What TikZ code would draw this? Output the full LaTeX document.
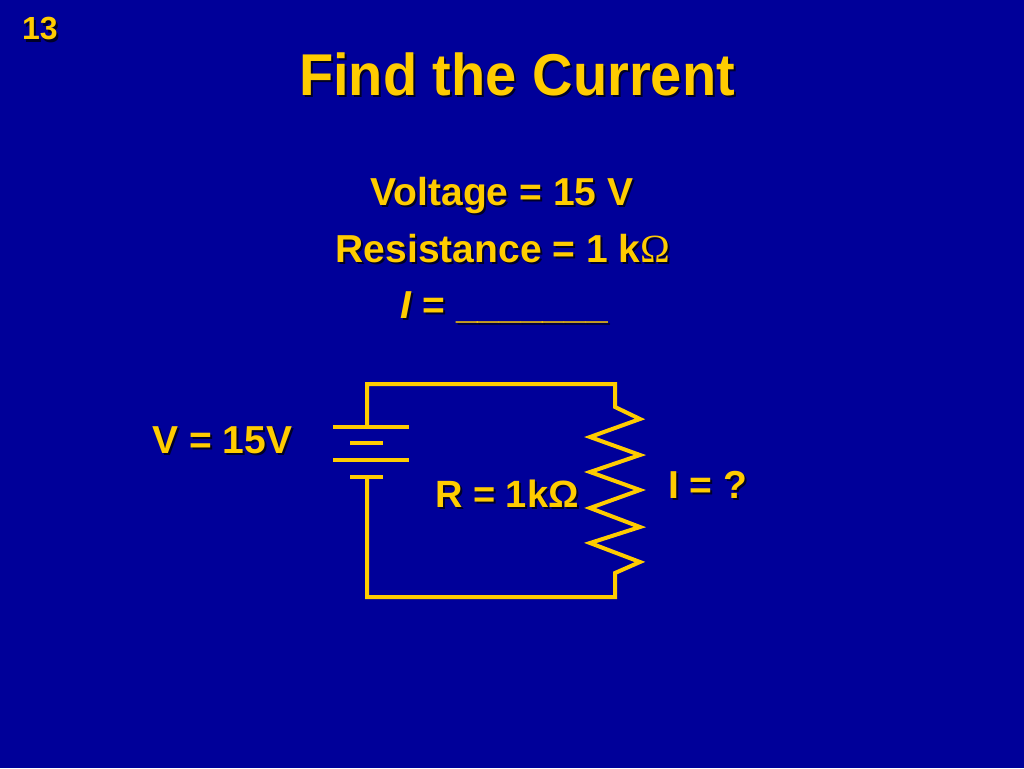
\documentclass[tikz,border=0pt]{standalone}
\usepackage{fontspec}
\usepackage{graphicx}
\setmainfont{Liberation Sans}
\newfontfamily\omserif{Liberation Serif}
\definecolor{slidebg}{RGB}{0,0,153}
\definecolor{slidefg}{RGB}{255,204,0}
\definecolor{shadowc}{RGB}{0,0,40}
\newcommand\shtext[5]{%
  \node[txtshadow, anchor=#3] (#1s) at ([shift={(2,2)}]#2) {#4#5};
  \node[txt, anchor=#3] (#1) at (#2) {#4#5};}
\newcommand\fs[1]{\fontsize{#1}{#1}\selectfont\bfseries}
\begin{document}
\begin{tikzpicture}[x=1pt,y=-1pt,
  txt/.style={inner sep=0pt, text=slidefg},
  txtshadow/.style={inner sep=0pt, text=shadowc},
  wire/.style={draw=slidefg, line width=4pt, line join=miter}]
\useasboundingbox (0,0) rectangle (1024,768);
\fill[slidebg] (0,0) rectangle (1024,768);
% texts
\shtext{num}{22,40}{base west}{\fs{32}}{13}
\shtext{title}{517,95}{base}{\fs{59}}{\scalebox{0.95}[1]{Find the Current}}
\shtext{volt}{502,205}{base}{\fs{39}}{Voltage = 15 V}
\shtext{res}{503,262}{base}{\fs{39}}{Resistance = 1 k{\omserif\mdseries\fontsize{40}{40}\selectfont Ω}}
\shtext{cur}{400,318}{base west}{\fs{39}}{\textit{I} = \_\_\_\_\_\_\_}
\shtext{vlab}{152,453}{base west}{\fs{39}}{V = 15V}
\shtext{rlab}{435,507}{base west}{\fs{38}}{R = 1kΩ}
\shtext{ilab}{668,498}{base west}{\fs{39}}{I = ?}
% circuit
\coordinate (battop) at (367,427);
\coordinate (batbot) at (367,477);
\coordinate (tr) at (615,384);
\coordinate (rtop) at (615,407);
\coordinate (rbot) at (615,573);
\coordinate (bl) at (367,597);
\draw[wire] (battop) |- (tr) -- (rtop)
  -- (640,419) -- (590,437) -- (640,455) -- (590,472) -- (640,490)
  -- (590,508) -- (640,527) -- (590,543) -- (640,562) -- (rbot)
  |- (bl) -- (batbot);
\coordinate (p1l) at (333,427); \coordinate (p1r) at (409,427);
\coordinate (p2l) at (350,443); \coordinate (p2r) at (383,443);
\coordinate (p3l) at (333,460); \coordinate (p3r) at (409,460);
\coordinate (p4l) at (350,477); \coordinate (p4r) at (383,477);
\draw[wire] (p1l) -- (p1r);
\draw[wire] (p2l) -- (p2r);
\draw[wire] (p3l) -- (p3r);
\draw[wire] (p4l) -- (p4r);
\end{tikzpicture}
\end{document}
